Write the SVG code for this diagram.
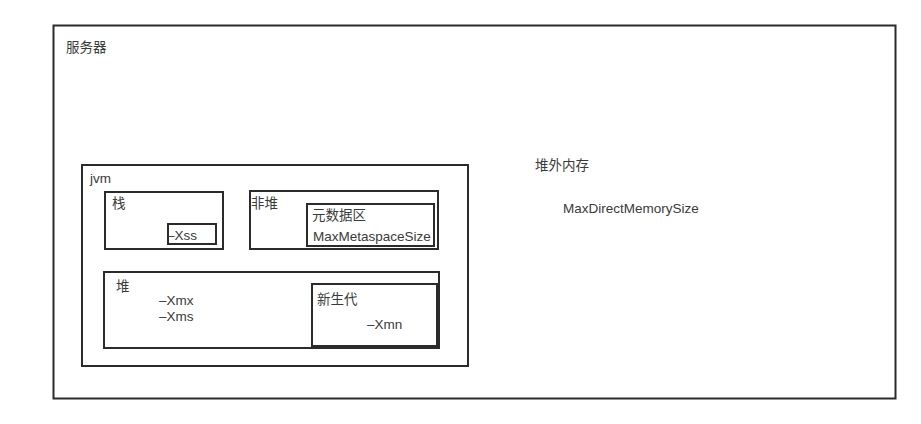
<svg xmlns="http://www.w3.org/2000/svg" width="921" height="424" viewBox="0 0 921 424">
<style>
rect{fill:none;stroke:#2b2b2b;stroke-width:2}
text{font-family:"Liberation Sans","Noto Sans CJK SC",sans-serif;font-size:13.5px;fill:#3a3a3a}
</style>
<rect x="0" y="0" width="921" height="424" style="fill:#fff;stroke:none"/>
<g id="server"><rect x="53.5" y="25.5" width="842" height="373"/><text x="66" y="52">服务器</text></g>
<g id="jvm"><rect x="82" y="165" width="386" height="201"/><text x="90" y="183">jvm</text></g>
<g id="stack"><rect x="105" y="192" width="118" height="57"/><text x="112" y="208">栈</text></g>
<g id="xss"><rect x="168" y="224" width="48" height="20"/><text x="167" y="240">–Xss</text></g>
<g id="nonheap"><rect x="250" y="191" width="188" height="58"/><text x="251" y="208">非堆</text></g>
<g id="metaspace"><rect x="307" y="204" width="127" height="42"/><text x="312" y="220">元数据区</text><text x="313" y="241">MaxMetaspaceSize</text></g>
<g id="heap"><rect x="104" y="272" width="335" height="76"/><text x="116" y="291">堆</text><text x="159" y="305">–Xmx</text><text x="159" y="321">–Xms</text></g>
<g id="young"><rect x="312" y="284" width="125" height="62"/><text x="317" y="304">新生代</text><text x="367" y="329">–Xmn</text></g>
<g id="offheap"><text x="535" y="170">堆外内存</text><text x="563" y="213">MaxDirectMemorySize</text></g>
<g id="connectors"></g>
</svg>
